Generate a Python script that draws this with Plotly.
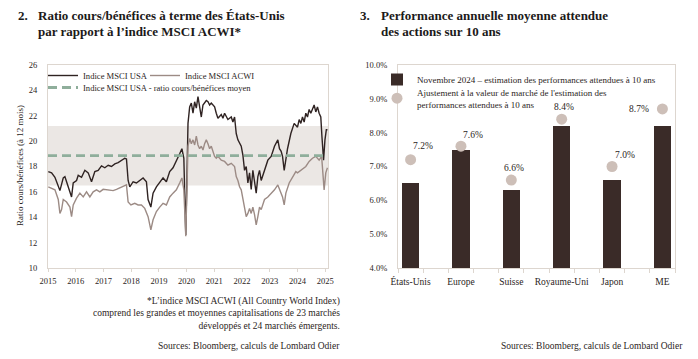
import plotly.graph_objects as go

W, H = 698, 359
PAGE_MARGIN = 8  # default body margin of the html page
FW, FH = W - PAGE_MARGIN, H - PAGE_MARGIN

# ---------------- Left chart data (forward P/E, 12 months) ----------------
usa_t = [2015.01, 2015.13, 2015.25, 2015.37, 2015.43, 2015.55, 2015.61, 2015.67, 2015.79, 2015.85,
         2015.91, 2016.03, 2016.09, 2016.21, 2016.33, 2016.45, 2016.57, 2016.69, 2016.81, 2016.93,
         2017.05, 2017.17, 2017.29, 2017.41, 2017.53, 2017.65, 2017.77, 2017.83, 2017.89, 2017.95,
         2018.07, 2018.19, 2018.31, 2018.43, 2018.55, 2018.61, 2018.71, 2018.79, 2018.91, 2019.03,
         2019.15, 2019.27, 2019.39, 2019.51, 2019.63, 2019.75, 2019.83, 2019.90, 2019.97, 2020.05,
         2020.11, 2020.17, 2020.23, 2020.29, 2020.35, 2020.41, 2020.47, 2020.53, 2020.59, 2020.65,
         2020.71, 2020.77, 2020.83, 2020.89, 2021.01, 2021.07, 2021.13, 2021.25, 2021.31, 2021.37,
         2021.49, 2021.61, 2021.67, 2021.73, 2021.79, 2021.85, 2021.91, 2021.97, 2022.03, 2022.09,
         2022.15, 2022.21, 2022.27, 2022.33, 2022.39, 2022.45, 2022.51, 2022.57, 2022.63, 2022.69,
         2022.81, 2022.93, 2023.05, 2023.17, 2023.29, 2023.35, 2023.41, 2023.46, 2023.52, 2023.58,
         2023.64, 2023.76, 2023.82, 2023.88, 2024.00, 2024.06, 2024.12, 2024.18, 2024.24, 2024.30,
         2024.36, 2024.42, 2024.48, 2024.54, 2024.60, 2024.66, 2024.72, 2024.78, 2024.84, 2024.88,
         2024.94, 2024.99, 2025.04, 2025.08]
usa_pe = [17.6, 17.5, 17.15, 16.4, 16.1, 17.1, 17.2, 16.8, 15.9, 15.6,
          16.7, 16.9, 17.3, 17.15, 17.7, 17.5, 16.8, 17.6, 17.7, 18.05,
          17.9, 18.1, 18.0, 18.2, 18.3, 18.5, 18.65, 18.6, 16.9, 16.4,
          16.8, 16.7, 16.9, 17.1, 16.8, 15.4, 14.8, 15.9, 16.4, 16.8,
          17.1, 16.8, 17.6, 17.9, 18.4, 19.0, 19.4, 18.65, 12.6, 21.4,
          22.7, 23.0, 22.2, 23.1, 22.6, 23.5, 22.7, 21.9, 22.85, 23.0,
          23.2, 23.1, 22.85, 23.0, 22.7, 22.2, 21.8, 22.1, 21.8, 22.2,
          21.7, 21.9, 21.5, 21.9, 20.6, 20.1, 19.8, 19.6, 18.9, 17.7,
          18.0, 16.7, 17.5, 16.2, 17.7, 16.9, 15.9, 17.2, 17.7, 16.9,
          17.7, 18.5, 18.8, 19.6, 20.1, 19.4, 19.2, 18.8, 17.7, 18.8,
          19.4, 20.6, 21.1, 21.4, 21.1, 21.7, 21.4, 21.9, 21.5, 22.2,
          21.9, 22.5, 22.2, 22.6, 22.85, 22.3, 22.7, 22.2, 21.9, 20.4,
          18.5, 20.1, 20.9, 20.9]

acwi_t = [2015.01, 2015.13, 2015.25, 2015.37, 2015.43, 2015.49, 2015.55, 2015.67, 2015.79, 2015.85,
          2015.91, 2016.03, 2016.15, 2016.27, 2016.39, 2016.51, 2016.63, 2016.75, 2016.87, 2016.99,
          2017.11, 2017.23, 2017.35, 2017.47, 2017.59, 2017.71, 2017.83, 2017.89, 2017.99, 2018.13,
          2018.25, 2018.37, 2018.49, 2018.61, 2018.71, 2018.79, 2018.91, 2019.03, 2019.15, 2019.27,
          2019.39, 2019.51, 2019.63, 2019.75, 2019.83, 2019.90, 2019.97, 2020.05, 2020.11, 2020.17,
          2020.23, 2020.29, 2020.35, 2020.41, 2020.47, 2020.53, 2020.59, 2020.65, 2020.71, 2020.77,
          2020.83, 2020.89, 2020.95, 2021.01, 2021.07, 2021.13, 2021.25, 2021.37, 2021.49, 2021.61,
          2021.73, 2021.79, 2021.85, 2021.91, 2021.97, 2022.03, 2022.09, 2022.15, 2022.21, 2022.27,
          2022.33, 2022.39, 2022.45, 2022.51, 2022.57, 2022.63, 2022.69, 2022.81, 2022.93, 2023.05,
          2023.17, 2023.29, 2023.35, 2023.41, 2023.46, 2023.52, 2023.58, 2023.70, 2023.82, 2023.94,
          2024.00, 2024.12, 2024.24, 2024.30, 2024.42, 2024.54, 2024.66, 2024.78, 2024.87, 2024.92,
          2024.96, 2025.02, 2025.08]
acwi_pe = [16.4, 16.3, 16.16, 15.4, 14.3, 14.6, 15.4, 15.2, 14.8, 14.05,
           14.97, 15.5, 15.9, 15.6, 16.0, 15.6, 16.0, 16.16, 16.0, 16.2,
           16.16, 16.16, 16.1, 16.2, 16.3, 16.4, 16.55, 15.2, 14.97, 15.1,
           14.97, 14.97, 14.7, 14.05, 13.0, 13.8, 14.45, 14.8, 15.1, 14.97,
           15.6, 15.9, 16.16, 16.7, 17.1, 16.16, 12.5, 19.6, 20.2, 19.8,
           20.1, 19.7, 20.4, 19.7, 19.4, 19.6, 19.3, 19.8, 20.1, 19.8,
           19.4, 19.6, 19.2, 18.8, 18.65, 18.8, 18.5, 18.4, 18.1, 18.25,
           18.0, 17.2, 16.9, 16.4, 16.16, 15.4, 14.8, 14.05, 14.3, 14.7,
           14.3, 14.8, 14.2, 13.4, 14.05, 14.8, 14.6, 15.4, 15.6, 15.9,
           16.16, 16.55, 16.16, 15.9, 15.6, 14.97, 15.9, 16.7, 17.1, 17.6,
           17.5, 17.7, 17.9, 18.0, 18.4, 18.65, 18.8, 18.5, 18.8, 16.9,
           16.16, 17.5, 17.9]

usa_mean_pe = 18.85
band_low, band_high = 16.5, 21.2
year_ticks = list(range(2015, 2026))
pe_ticks = [10, 12, 14, 16, 18, 20, 22, 24, 26]

# ---------------- Right chart data (expected 10y annual return, %) ----------------
regions = ["États-Unis", "Europe", "Suisse", "Royaume-Uni", "Japon", "ME"]
estimate_nov2024 = [6.5, 7.5, 6.3, 8.2, 6.6, 8.2]
market_adjusted = [7.2, 7.6, 6.6, 8.4, 7.0, 8.7]
pct_ticks = [4, 5, 6, 7, 8, 9, 10]

# ---------------- styles ----------------
SERIF = "Liberation Serif, DejaVu Serif, serif"
FRAME = "#ddd6cf"
TXT = "#2b2523"
TITLE_C = "#1c1a19"
USA_C = "#2f2322"
ACWI_C = "#9c8b85"
MEAN_C = "#8fae9b"
BAND_C = "#ebe7e4"
BAR_C = "#3a2b28"
DOT_C = "#cdbfb8"
label_dx = [12, 12, 3, 2, 13, -23]
label_dy = [14, 11, 12, 12, 12, 0]


def px(x):
    return (x - PAGE_MARGIN) / FW


def py(y):
    return 1 - (y - PAGE_MARGIN) / FH


slots = [2 * i + 0.5 for i in range(len(regions))]

fig = go.Figure()

# Left chart traces
fig.add_trace(go.Scatter(x=usa_t, y=usa_pe, mode="lines", name="Indice MSCI USA",
                         line=dict(color=USA_C, width=1.4), xaxis="x", yaxis="y", legend="legend"))
fig.add_trace(go.Scatter(x=acwi_t, y=acwi_pe, mode="lines", name="Indice MSCI ACWI",
                         line=dict(color=ACWI_C, width=1.4), xaxis="x", yaxis="y", legend="legend2"))
fig.add_trace(go.Scatter(x=[year_ticks[0], 2025.1], y=[usa_mean_pe, usa_mean_pe], mode="lines",
                         name="Indice MSCI USA - ratio cours/bénéfices moyen",
                         line=dict(color=MEAN_C, width=2.8, dash="9px,5px"),
                         xaxis="x", yaxis="y", legend="legend3"))

# Right chart traces
fig.add_trace(go.Bar(x=slots, y=[v - 4 for v in estimate_nov2024], base=4, width=0.68,
                     marker=dict(color=BAR_C, line=dict(width=0)),
                     name="Novembre 2024 – estimation des performances attendues à 10 ans",
                     xaxis="x2", yaxis="y2", legend="legend4"))
fig.add_trace(go.Scatter(x=slots, y=market_adjusted, mode="markers",
                         marker=dict(color=DOT_C, size=11),
                         name="Ajustement à la valeur de marché de l'estimation des<br>performances attendues à 10 ans",
                         xaxis="x2", yaxis="y2", legend="legend5"))

annotations = []
for s, v, dx, dy in zip(slots, market_adjusted, label_dx, label_dy):
    annotations.append(dict(x=s, y=v, xref="x2", yref="y2", text=f"{v:.1f}%", showarrow=False,
                            xshift=dx, yshift=dy, font=dict(family=SERIF, size=9.5, color=TXT)))


def title_line(x, y, text):
    return dict(x=px(x), y=py(y), xref="paper", yref="paper", xanchor="left", yanchor="middle",
                text=f"<b>{text}</b>", showarrow=False, font=dict(family=SERIF, size=13, color=TITLE_C))


annotations += [
    title_line(16, 16, "2."),
    title_line(36, 16, "Ratio cours/bénéfices à terme des États-Unis"),
    title_line(36, 32, "par rapport à l’indice MSCI ACWI*"),
    title_line(358, 16, "3."),
    title_line(379, 16, "Performance annuelle moyenne attendue"),
    title_line(379, 32, "des actions sur 10 ans"),
    dict(x=px(20), y=py(166), xref="paper", yref="paper", xanchor="center", yanchor="middle",
         textangle=-90, text="Ratio cours/bénéfices (à 12 mois)", showarrow=False,
         font=dict(family=SERIF, size=9, color=TXT)),
    dict(x=px(342), y=py(294), xref="paper", yref="paper", xanchor="right", yanchor="top", align="right",
         text="*L’indice MSCI ACWI (All Country World Index)<br>comprend les grandes et moyennes capitalisations de 23 marchés<br>développés et 24 marchés émergents.",
         showarrow=False, font=dict(family=SERIF, size=9.5, color=TXT)),
    dict(x=px(342), y=py(339), xref="paper", yref="paper", xanchor="right", yanchor="top",
         text="Sources: Bloomberg, calculs de Lombard Odier", showarrow=False,
         font=dict(family=SERIF, size=9.5, color=TXT)),
    dict(x=px(685), y=py(339), xref="paper", yref="paper", xanchor="right", yanchor="top",
         text="Sources: Bloomberg, calculs de Lombard Odier", showarrow=False,
         font=dict(family=SERIF, size=9.5, color=TXT)),
]

shapes = [dict(type="rect", xref="x domain", yref="y", x0=0, x1=1, y0=band_low, y1=band_high,
               fillcolor=BAND_C, line=dict(width=0), layer="below")]

axis_font = dict(family=SERIF, size=8.5, color=TXT)
leg_small = dict(family=SERIF, size=8.6, color=TXT)
leg_right = dict(family=SERIF, size=9, color=TXT)


def legend_at(x, y, font):
    return dict(x=px(x), y=py(y), xanchor="left", yanchor="top", orientation="v",
                bgcolor="rgba(0,0,0,0)", font=font, tracegroupgap=0)


fig.update_layout(
    width=FW, height=FH, margin=dict(l=0, r=0, t=0, b=0, autoexpand=False),
    paper_bgcolor="white", plot_bgcolor="white",
    showlegend=True,
    xaxis=dict(domain=[px(48), px(328)], range=[2015, 2025.1], tickmode="array", tickvals=year_ticks,
               ticktext=[str(y) for y in year_ticks], ticks="outside", ticklen=3, tickcolor=FRAME,
               showgrid=False, zeroline=False, showline=True, mirror=True, linecolor=FRAME,
               tickfont=axis_font, anchor="y", automargin=False, ticklabelstandoff=2),
    yaxis=dict(domain=[py(268), py(65)], range=[10, 26], tickmode="array", tickvals=pe_ticks,
               ticks="", showgrid=False, zeroline=False, showline=True, mirror=True, linecolor=FRAME,
               tickfont=axis_font, anchor="x", ticklabelstandoff=8, automargin=False),
    xaxis2=dict(domain=[px(398), px(675)], range=[0, 11], tickmode="array", tickvals=slots,
                ticktext=regions, ticks="", showgrid=False, zeroline=False, showline=True, mirror=True,
                linecolor=FRAME, tickfont=dict(family=SERIF, size=9.5, color=TXT), anchor="y2",
                automargin=False, ticklabelstandoff=5,
                minor=dict(tickmode="array", tickvals=list(range(12)), ticks="outside", ticklen=4,
                           tickcolor=FRAME)),
    yaxis2=dict(domain=[py(268), py(65)], range=[4, 10], tickmode="array", tickvals=pct_ticks,
                ticktext=[f"{v:.1f}%" for v in pct_ticks], ticks="", showgrid=False, zeroline=False,
                showline=True, mirror=True, linecolor=FRAME, tickfont=axis_font, anchor="x2",
                ticklabelstandoff=8, automargin=False),
    legend=legend_at(43, 61, leg_small),
    legend2=legend_at(145, 61, leg_small),
    legend3=legend_at(43, 73, leg_small),
    legend4=legend_at(377, 65, leg_right),
    legend5=legend_at(377, 80, leg_right),
    annotations=annotations, shapes=shapes, bargap=0,
)

fig.write_html("out.html")
